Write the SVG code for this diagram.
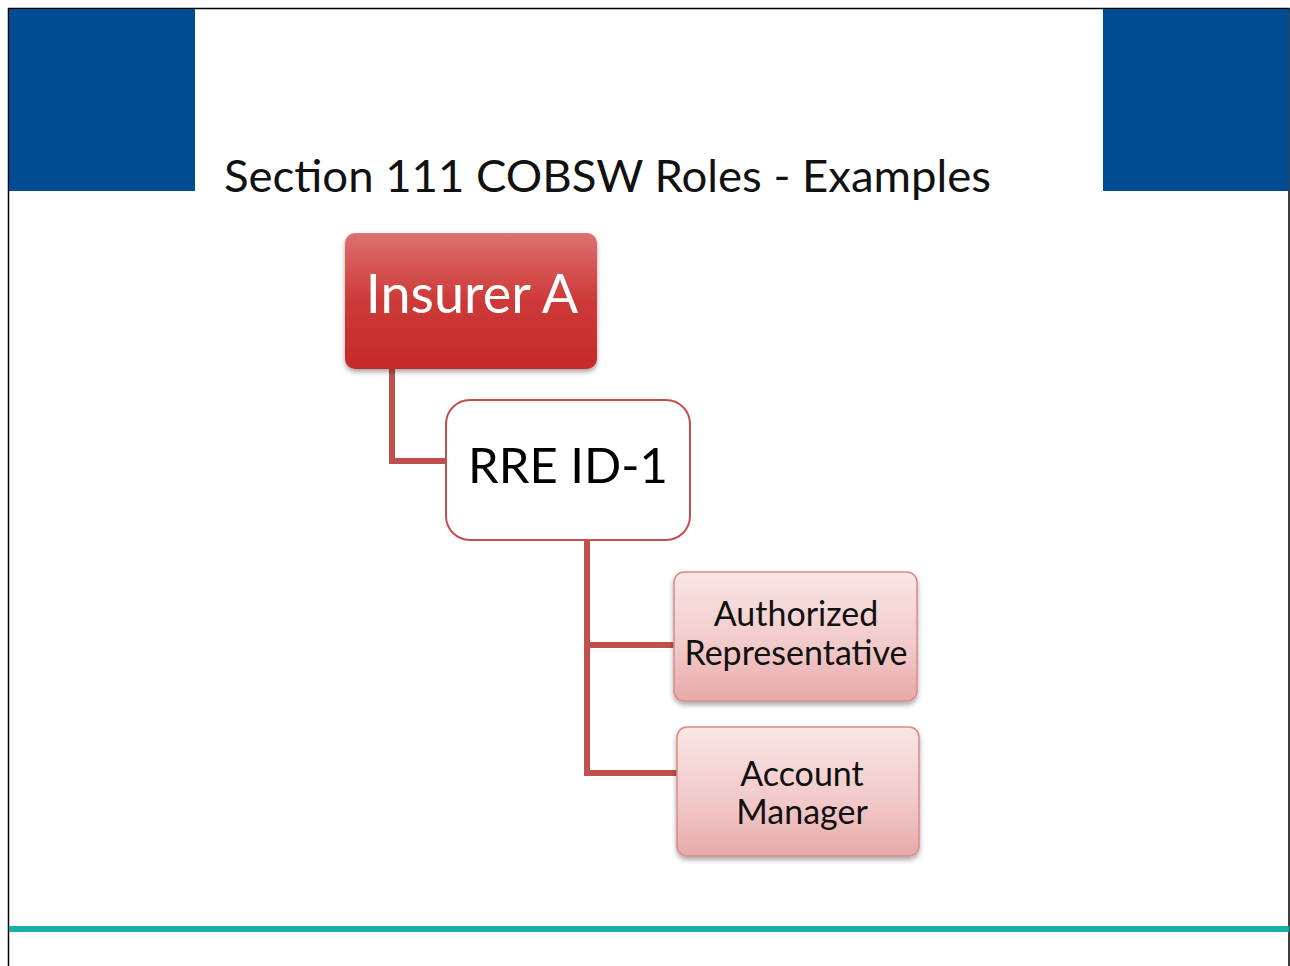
<svg xmlns="http://www.w3.org/2000/svg" width="1290" height="966" viewBox="0 0 1290 966">
  <style>
    .band { fill: #004C93; }
    .title { font-family: "Lato", "Liberation Sans", sans-serif; font-size: 45px; fill: #111; }
    .conn { fill: none; stroke: #C0504D; stroke-width: 6; }
    .lbl { font-family: "Lato", "Liberation Sans", sans-serif; text-anchor: middle; }
    .role { fill: url(#pink); stroke: #D98A88; stroke-width: 1.5; }
    .roleText { font-size: 34px; fill: #111; }
  </style>
  <defs>
    <linearGradient id="red" x1="0" y1="0" x2="0" y2="1">
      <stop offset="0" stop-color="#DD7070"/>
      <stop offset="0.5" stop-color="#CD3A38"/>
      <stop offset="1" stop-color="#C62A28"/>
    </linearGradient>
    <linearGradient id="pink" x1="0" y1="0" x2="0" y2="1">
      <stop offset="0" stop-color="#FAE6E6"/>
      <stop offset="0.6" stop-color="#F1C8C8"/>
      <stop offset="1" stop-color="#E8A8A8"/>
    </linearGradient>
    <filter id="shadow" x="-10%" y="-10%" width="120%" height="130%">
      <feDropShadow dx="0" dy="3" stdDeviation="2.5" flood-color="#000" flood-opacity="0.35"/>
    </filter>
  </defs>

  <!-- page background and frame -->
  <rect x="0" y="0" width="1290" height="966" fill="#fff"/>
  <path d="M8.5 966 V8.5 H1289 V966" fill="none" stroke="#000" stroke-width="1.5"/>

  <!-- header bands -->
  <rect class="band" x="9" y="9" width="186" height="182"/>
  <rect class="band" x="1103" y="9" width="186" height="182"/>

  <!-- title -->
  <text class="title" x="224" y="192" textLength="767" lengthAdjust="spacingAndGlyphs">Section 111 COBSW Roles - Examples</text>

  <!-- footer rule -->
  <rect x="9" y="926" width="1280" height="6" fill="#19B0AA"/>

  <!-- connectors -->
  <g id="connectors">
    <path class="conn" d="M392 369 V461 H446"/>
    <path class="conn" d="M587 540 V773 H677"/>
    <path class="conn" d="M587 645 H674"/>
  </g>

  <g id="insurer-a">
    <rect x="345" y="233" width="252" height="136" rx="10" fill="url(#red)" filter="url(#shadow)"/>
    <text class="lbl" x="472" y="313" font-size="54" fill="#fff">Insurer A</text>
  </g>

  <g id="rre-id-1">
    <rect x="446" y="400" width="244" height="140" rx="24" fill="#fff" stroke="#C0504D" stroke-width="2"/>
    <text class="lbl" x="568" y="483" font-size="49" fill="#000">RRE ID-1</text>
  </g>

  <g id="authorized-representative">
    <rect class="role" x="674" y="572" width="243" height="129" rx="10" filter="url(#shadow)"/>
    <text class="lbl roleText" x="796" y="626">Authorized</text>
    <text class="lbl roleText" x="796" y="665">Representative</text>
  </g>

  <g id="account-manager">
    <rect class="role" x="677" y="727" width="242" height="129" rx="10" filter="url(#shadow)"/>
    <text class="lbl roleText" x="802" y="786">Account</text>
    <text class="lbl roleText" x="802" y="824">Manager</text>
  </g>
</svg>
